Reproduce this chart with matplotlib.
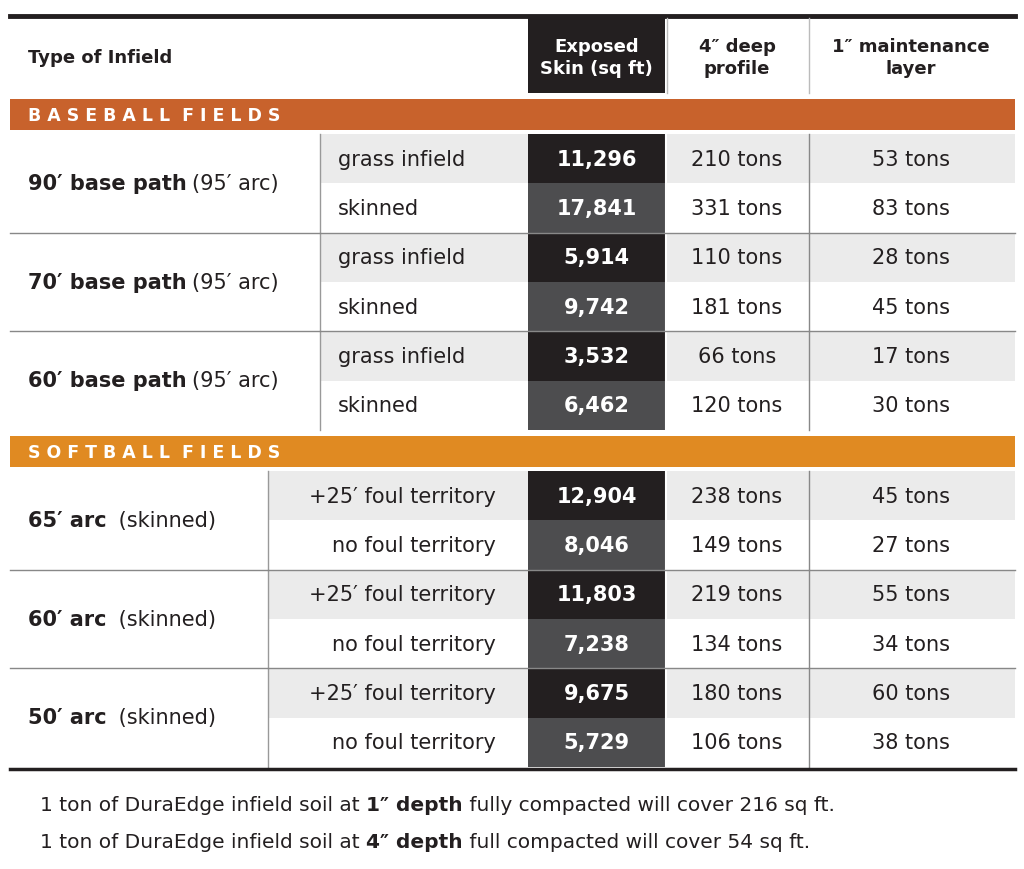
import matplotlib.pyplot as plt
from matplotlib.patches import Rectangle

baseball_groups = ["90\u2032 base path", "70\u2032 base path", "60\u2032 base path"]
baseball_sub = ["grass infield", "skinned"]
baseball_skin = ["11,296", "17,841", "5,914", "9,742", "3,532", "6,462"]
baseball_deep = ["210 tons", "331 tons", "110 tons", "181 tons", "66 tons", "120 tons"]
baseball_maint = ["53 tons", "83 tons", "28 tons", "45 tons", "17 tons", "30 tons"]

softball_groups = ["65\u2032 arc", "60\u2032 arc", "50\u2032 arc"]
softball_sub = ["+25\u2032 foul territory", "no foul territory"]
softball_skin = ["12,904", "8,046", "11,803", "7,238", "9,675", "5,729"]
softball_deep = ["238 tons", "149 tons", "219 tons", "134 tons", "180 tons", "106 tons"]
softball_maint = ["45 tons", "27 tons", "55 tons", "34 tons", "60 tons", "38 tons"]

plt.rcParams["font.family"] = "DejaVu Sans"
FS = 15

fig = plt.figure(figsize=(10.24, 8.7), dpi=100)
ax = fig.add_axes([0, 0, 1, 1])
ax.set_xlim(0, 1024)
ax.set_ylim(870, 0)
ax.axis("off")

L, R = 10, 1015
X_SKIN0, X_SKIN1 = 528, 665
X_V2 = 809
TXT = "#231f20"
ROWH = 49.3

def rect(x0, y0, x1, y1, c, z=1):
    ax.add_patch(Rectangle((x0, y0), x1 - x0, y1 - y0, color=c, lw=0, zorder=z))

# header
ax.plot([L, R], [17, 17], color=TXT, lw=3.5)
rect(X_SKIN0, 19, X_SKIN1, 94, TXT)
ax.text(28, 58, "Type of Infield", fontsize=13, weight="bold", color=TXT, va="center")
ax.text((X_SKIN0 + X_SKIN1) / 2, 58, "Exposed\nSkin (sq ft)", fontsize=13, weight="bold",
        color="white", ha="center", va="center", linespacing=1.3)
ax.text(737, 58, "4\u2033 deep\nprofile", fontsize=13, weight="bold", color=TXT,
        ha="center", va="center", linespacing=1.3)
ax.text(911, 58, "1\u2033 maintenance\nlayer", fontsize=13, weight="bold", color=TXT,
        ha="center", va="center", linespacing=1.3)
for x in [X_SKIN1 + 2, X_V2]:
    ax.plot([x, x], [19, 94], color="#bbbbbb", lw=1)


def section(title, band_y, band_col, groups, subs, skin, deep, maint, x_sub, sub_ha, label_suffix):
    rect(L, band_y, R, band_y + 31, band_col)
    ax.text(28, band_y + 16, "  ".join(" ".join(w) for w in title.split()), fontsize=12.5,
            weight="bold", color="white", va="center")
    y0 = band_y + 35
    for g, name in enumerate(groups):
        gy = y0 + g * 2 * ROWH
        for s in range(2):
            i = g * 2 + s
            ry = gy + s * ROWH
            cy = ry + ROWH / 2
            if s == 0:
                rect(x_sub, ry, R, ry + ROWH, "#ebebeb", 0)
            rect(X_SKIN0, ry, X_SKIN1, ry + ROWH, TXT if s == 0 else "#4d4d4f")
            if sub_ha == "left":
                ax.text(x_sub + 18, cy, subs[s], fontsize=FS, color=TXT, va="center")
            else:
                ax.text(X_SKIN0 - 32, cy, subs[s], fontsize=FS, color=TXT, va="center", ha="right")
            ax.text((X_SKIN0 + X_SKIN1) / 2, cy, skin[i], fontsize=FS, weight="bold",
                    color="white", ha="center", va="center")
            ax.text(737, cy, deep[i], fontsize=FS, color=TXT, ha="center", va="center")
            ax.text(911, cy, maint[i], fontsize=FS, color=TXT, ha="center", va="center")
        gc = gy + ROWH
        t = ax.text(28, gc, name, fontsize=FS, weight="bold", color=TXT, va="center")
        ax.annotate(label_suffix, xycoords=t, xy=(1, 0.5), va="center", fontsize=FS,
                    color=TXT, xytext=(4, 0), textcoords="offset points")
        ax.plot([x_sub, x_sub], [gy, gy + 2 * ROWH], color="#999999", lw=1)
        ax.plot([X_SKIN1 + 1, X_SKIN1 + 1], [gy, gy + 2 * ROWH], color="white", lw=1.5)
        ax.plot([X_V2, X_V2], [gy, gy + 2 * ROWH], color="#888888", lw=1)
        if g > 0:
            ax.plot([L, R], [gy, gy], color="#888888", lw=1, zorder=3)
    return y0 + len(groups) * 2 * ROWH


section("BASEBALL FIELDS", 100, "#c8622c", baseball_groups, baseball_sub,
        baseball_skin, baseball_deep, baseball_maint, 320, "left", "(95\u2032 arc)")
end = section("SOFTBALL FIELDS", 437, "#e08a22", softball_groups, softball_sub,
              softball_skin, softball_deep, softball_maint, 268, "right", " (skinned)")
ax.plot([L, R], [end + 2, end + 2], color=TXT, lw=2.5)

# footer
for y, depth, rest in [(806, "1\u2033 depth", " fully compacted will cover 216 sq ft."),
                       (843, "4\u2033 depth", " full compacted will cover 54 sq ft.")]:
    t1 = ax.text(40, y, "1 ton of DuraEdge infield soil at ", fontsize=14.5, color=TXT, va="center")
    t2 = ax.annotate(depth, xycoords=t1, xy=(1, 0.5), va="center", fontsize=14.5,
                     weight="bold", color=TXT)
    ax.annotate(rest, xycoords=t2, xy=(1, 0.5), va="center", fontsize=14.5, color=TXT)

fig.savefig("out.png", dpi=100, facecolor="white")
